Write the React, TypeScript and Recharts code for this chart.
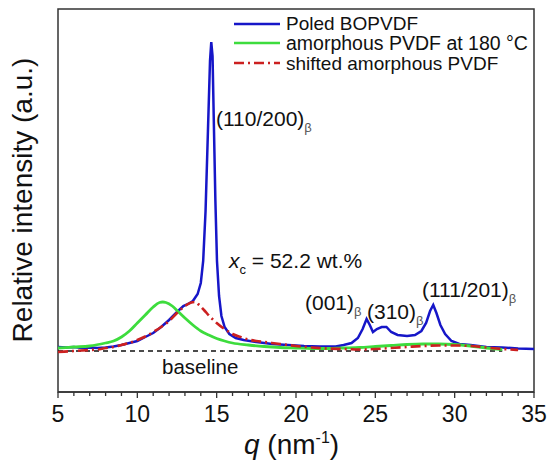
import React from "react";
import { LineChart, Line, XAxis, YAxis, ReferenceArea } from "recharts";

// q (nm^-1) and relative intensity (arbitrary units, 0 = baseline)
const poledQ = [
  5, 5.5, 6, 6.5, 7, 7.5, 8, 8.5, 9, 9.5, 10, 10.5, 11, 11.5, 12, 12.5, 12.9, 13.2, 13.5, 13.8,
  14.0, 14.15, 14.3, 14.45, 14.58, 14.66, 14.74, 14.82, 14.92, 15.02, 15.15, 15.3, 15.5, 15.8,
  16.2, 16.7, 17.5, 18.5, 19.5, 20.5, 21.5, 22.5, 23, 23.5, 23.9, 24.2, 24.45, 24.65, 24.85,
  25.1, 25.4, 25.7, 26, 26.4, 27, 27.5, 27.9, 28.2, 28.45, 28.65, 28.85, 29.1, 29.4, 29.8,
  30.3, 31, 32, 33, 34, 35,
];
const poledI = [
  4, 3.5, 4, 3, 3.5, 3, 3.5, 4.5, 6, 8, 10, 14, 18, 24, 31, 39, 45, 47, 50, 57,
  68, 90, 140, 220, 290, 309, 295, 230, 150, 90, 55, 35, 24, 17,
  13, 11, 9, 7, 6, 5, 4.5, 4.5, 6, 8, 13, 22, 32, 26, 19,
  22, 24, 24, 19, 16, 15, 16, 20, 28, 40, 46, 38, 26, 17, 10,
  7, 6, 4, 3.5, 2.5, 2,
];

const amorphQ = [
  5, 6, 7, 8, 8.5, 9, 9.5, 10, 10.5, 11, 11.4, 11.6, 11.8, 12.2, 12.6, 13, 13.5, 14, 14.5, 15,
  15.5, 16, 17, 18, 19, 20, 21, 22, 23, 24, 25, 26, 27, 28, 29, 30, 31, 32, 33,
];
const amorphI = [
  3, 4, 5, 8, 10, 14, 20, 28, 36, 44, 48.5, 49, 48.5, 45, 39, 33, 26, 20, 16, 12.5,
  10, 8, 6, 4.5, 3.5, 3, 2.5, 2.5, 3, 3.5, 4.5, 5.5, 6.5, 7, 7, 6.5, 5, 3, 1.5,
];

const shiftedQ = [
  5, 6, 7, 7.5, 8, 8.5, 9, 9.5, 10, 10.5, 11, 11.5, 12, 12.5, 13, 13.4, 13.65, 13.9, 14.2, 14.6,
  15, 15.4, 16, 16.5, 17, 17.5, 18, 19, 20, 21, 22, 23, 24, 25, 26, 27, 28, 29, 30, 31, 32, 33, 34,
];
const shiftedI = [
  -1, 0, 1, 1.5, 3, 4, 6, 8, 11, 14.5, 19, 24, 30, 38, 45, 48.5, 49, 46, 41, 34,
  28, 23, 17, 14, 11.5, 10, 9, 7, 5, 3.5, 2.5, 2, 1.5, 2, 3, 4, 5, 5.5, 5.5, 5, 3.5, 2, 1,
];

const baselineQ = [5, 33];

const majorTicks = [5, 10, 15, 20, 25, 30, 35];
const allTicks = Array.from({ length: 31 }, (_, i) => 5 + i);

const toRows = (qs: number[], vs: number[]) => qs.map((q, i) => ({ q, v: vs[i] }));

const poled = toRows(poledQ, poledI);
const amorph = toRows(amorphQ, amorphI);
const shifted = toRows(shiftedQ, shiftedI);
const baseline = baselineQ.map((q) => ({ q, v: 0 }));

const FONT = '"Liberation Sans", Arial, sans-serif';
const BLUE = "#1616c8";
const GREEN = "#3ddc3d";
const RED = "#cc2020";

const QTick = (props: any) => {
  const { x, y, payload } = props;
  const major = majorTicks.includes(payload.value);
  return (
    <g>
      <line x1={x} x2={x} y1={y} y2={y + (major ? 6 : 4)} stroke="#333" strokeWidth={1.3} />
      {major && (
        <text x={x} y={y + 30} textAnchor="middle" fontSize={23} fontFamily={FONT} fill="#111">
          {payload.value}
        </text>
      )}
    </g>
  );
};

const txt = (style: React.CSSProperties): React.CSSProperties => ({
  position: "absolute",
  fontFamily: FONT,
  color: "#111",
  whiteSpace: "nowrap",
  lineHeight: 1,
  ...style,
});

const sub: React.CSSProperties = { fontSize: 13, verticalAlign: "-0.45em", color: "#555" };

export default function App() {
  return (
    <div style={{ position: "relative", width: 548, height: 466, background: "#fff" }}>
      <style>{"body{margin:0}"}</style>
      <LineChart width={548} height={466} data={poled} margin={{ top: 9, right: 14, left: 58, bottom: 44 }}>
        <XAxis
          dataKey="q"
          type="number"
          domain={[5, 35]}
          ticks={allTicks}
          interval={0}
          height={30}
          tickSize={0}
          tickMargin={0}
          tickLine={false}
          tick={<QTick />}
          axisLine={{ stroke: "#333", strokeWidth: 1.5 }}
          allowDataOverflow
        />
        <YAxis hide type="number" domain={[-41, 342]} allowDataOverflow />
        <ReferenceArea x1={5} x2={35} y1={-41} y2={342} fill="none" stroke="#333" strokeWidth={1.5} />
        <Line data={baseline} dataKey="v" stroke="#111" strokeWidth={1.4} strokeDasharray="5 4" dot={false} isAnimationActive={false} />
        <Line data={poled} dataKey="v" type="linear" stroke={BLUE} strokeWidth={2.5} dot={false} isAnimationActive={false} />
        <Line data={amorph} dataKey="v" type="monotone" stroke={GREEN} strokeWidth={2.8} dot={false} isAnimationActive={false} />
        <Line data={shifted} dataKey="v" type="monotone" stroke={RED} strokeWidth={2.6} strokeDasharray="10 4 2 4" dot={false} isAnimationActive={false} />
      </LineChart>

      {/* legend */}
      <svg style={{ position: "absolute", left: 232, top: 14 }} width={50} height={60}>
        <line x1={2} x2={48} y1={10} y2={10} stroke={BLUE} strokeWidth={2.5} />
        <line x1={2} x2={48} y1={29} y2={29} stroke={GREEN} strokeWidth={2.5} />
        <line x1={2} x2={48} y1={49} y2={49} stroke={RED} strokeWidth={2.5} strokeDasharray="10 4 2 4" />
      </svg>
      <div style={txt({ left: 286, top: 14, fontSize: 19 })}>Poled BOPVDF</div>
      <div style={txt({ left: 286, top: 34, fontSize: 19.5 })}>amorphous PVDF at 180 °C</div>
      <div style={txt({ left: 286, top: 54, fontSize: 19 })}>shifted amorphous PVDF</div>

      {/* peak labels */}
      <div style={txt({ left: 216, top: 108, fontSize: 21 })}>
        (110/200)<span style={sub}>β</span>
      </div>
      <div style={txt({ left: 229, top: 250, fontSize: 21 })}>
        <i>x</i>
        <span style={{ fontSize: 13, verticalAlign: "-0.45em" }}>c</span> = 52.2 wt.%
      </div>
      <div style={txt({ left: 305, top: 292, fontSize: 21 })}>
        (001)<span style={sub}>β</span>
      </div>
      <div style={txt({ left: 367, top: 301, fontSize: 21 })}>
        (310)<span style={sub}>β</span>
      </div>
      <div style={txt({ left: 422, top: 279, fontSize: 21 })}>
        (111/201)<span style={sub}>β</span>
      </div>
      <div style={txt({ left: 162, top: 357, fontSize: 20.5 })}>baseline</div>

      {/* axis titles */}
      <div style={txt({ left: 244, top: 430, fontSize: 28 })}>
        <i>q</i> (nm<sup style={{ fontSize: 16, verticalAlign: "0.7em" }}>-1</sup>)
      </div>
      <div
        style={txt({
          left: 23,
          top: 200,
          fontSize: 28,
          transform: "translate(-50%, -50%) rotate(-90deg)",
        })}
      >
        Relative intensity (a.u.)
      </div>
    </div>
  );
}
